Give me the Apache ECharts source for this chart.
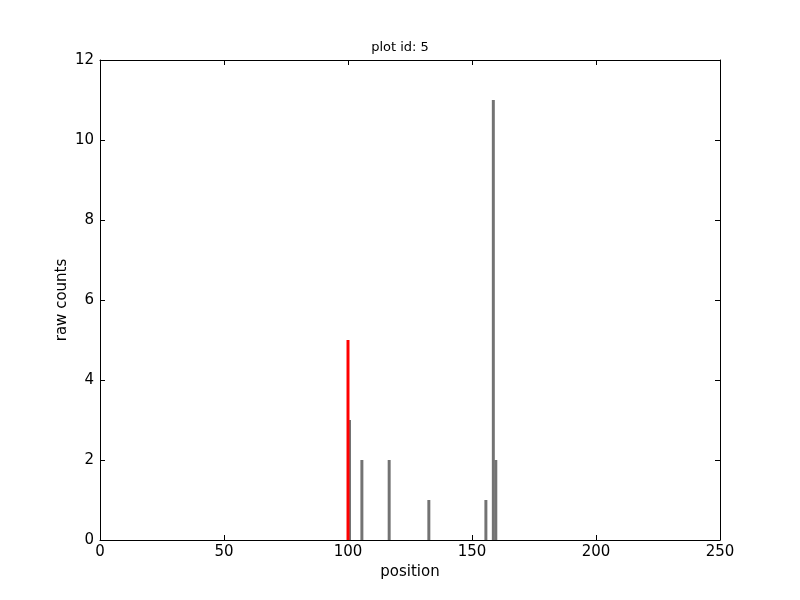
<!DOCTYPE html>
<html><head><meta charset="utf-8">
<script src="https://cdn.jsdelivr.net/npm/echarts@6/dist/echarts.min.js"></script>
<style>html,body{margin:0;padding:0;background:#fff}#c{width:800px;height:600px}</style>
</head><body><div id="c"></div>
<script>
const grayPositions = [100, 105, 116, 132, 155, 158, 159];
const grayCounts = [3, 2, 2, 1, 1, 11, 2];
const redPositions = [100];
const redCounts = [5];
const xTicks = [0, 50, 100, 150, 200, 250];
const yTicks = [0, 2, 4, 6, 8, 10, 12];

const chart = echarts.init(document.getElementById('c'), null, {renderer: 'canvas'});
function makeRender(offset, width, color) {
  return function (params, api) {
    const x = api.value(0), y = api.value(1);
    const p0 = api.coord([x + offset, 0]);
    const p1 = api.coord([x + offset + width, y]);
    return {type: 'rect', shape: {x: p0[0], y: p1[1], width: p1[0] - p0[0], height: p0[1] - p1[1]}, style: {fill: color}};
  };
}
const font = 'DejaVu Sans';
function axisCommon() {
  return {
    axisLine: {show: true, onZero: false, lineStyle: {color: '#000', width: 1}},
    axisTick: {show: true, inside: true, length: 5, lineStyle: {color: '#000'}},
    splitLine: {show: false}
  };
}
chart.setOption({
  animation: false,
  backgroundColor: '#fff',
  title: {text: 'plot id: 5', left: 'center', top: 36, textStyle: {fontFamily: font, fontSize: 13, fontWeight: 'normal', color: '#000'}},
  grid: {left: 100, right: 80, top: 60, bottom: 60},
  xAxis: [
    Object.assign({type: 'value', min: xTicks[0], max: xTicks[xTicks.length - 1], interval: 50, position: 'bottom',
      name: 'position', nameLocation: 'middle', nameGap: 25, nameMoveOverlap: false,
      nameTextStyle: {fontFamily: font, fontSize: 15, color: '#000'},
      axisLabel: {fontFamily: font, fontSize: 15, color: '#000', margin: 5}}, axisCommon()),
    Object.assign({type: 'value', min: xTicks[0], max: xTicks[xTicks.length - 1], interval: 50, position: 'top',
      axisLabel: {show: false}}, axisCommon())
  ],
  yAxis: [
    Object.assign({type: 'value', min: yTicks[0], max: yTicks[yTicks.length - 1], interval: 2, position: 'left',
      name: 'raw counts', nameLocation: 'middle', nameGap: 30, nameMoveOverlap: false,
      nameTextStyle: {fontFamily: font, fontSize: 15, color: '#000'},
      axisLabel: {fontFamily: font, fontSize: 15, color: '#000', margin: 6}}, axisCommon()),
    Object.assign({type: 'value', min: yTicks[0], max: yTicks[yTicks.length - 1], interval: 2, position: 'right',
      axisLabel: {show: false}}, axisCommon())
  ],
  series: [
    {type: 'custom', renderItem: makeRender(0, 1.2, '#737373'), data: grayPositions.map((p, i) => [p, grayCounts[i]]), z: 2},
    {type: 'custom', renderItem: makeRender(-0.6, 1.2, '#ff0000'), data: redPositions.map((p, i) => [p, redCounts[i]]), z: 3}
  ]
});
</script></body></html>
